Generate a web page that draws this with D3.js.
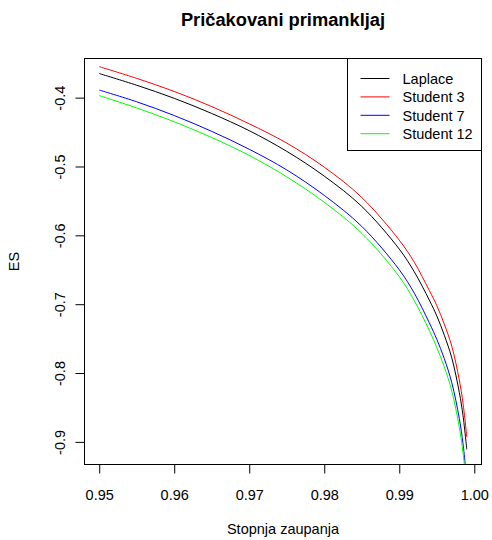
<!DOCTYPE html>
<html>
<head>
<meta charset="utf-8">
<script src="https://cdn.jsdelivr.net/npm/d3@7"></script>
<style>
    body { margin: 0; background: #fff; }
    text { font-family: "Liberation Sans", Arial, sans-serif; fill: #000; }
</style>
</head>
<body>
<div id="chart"></div>
<script>
// Expected shortfall by confidence level
const confidence = [0.95, 0.955, 0.96, 0.965, 0.97, 0.975, 0.98, 0.985, 0.99, 0.992, 0.994, 0.995, 0.996, 0.997, 0.998, 0.9985, 0.999];
const laplace   = [-0.365, -0.382, -0.401, -0.423, -0.448, -0.478, -0.514, -0.558, -0.620, -0.653, -0.694, -0.717, -0.745, -0.778, -0.828, -0.862, -0.911];
const student3  = [-0.355, -0.372, -0.391, -0.413, -0.438, -0.466, -0.501, -0.545, -0.607, -0.639, -0.680, -0.702, -0.729, -0.761, -0.810, -0.844, -0.893];
const student7  = [-0.389, -0.406, -0.426, -0.449, -0.475, -0.505, -0.542, -0.587, -0.650, -0.684, -0.727, -0.751, -0.779, -0.814, -0.866, -0.903, -0.956];
const student12 = [-0.397, -0.415, -0.435, -0.458, -0.484, -0.515, -0.552, -0.597, -0.660, -0.695, -0.738, -0.763, -0.791, -0.826, -0.879, -0.916, -0.969];

const seriesNames = ["Laplace", "Student 3", "Student 7", "Student 12"];
const seriesColors = ["#000000", "#ff0000", "#0000ff", "#00ff00"];
const xTicks = [0.95, 0.96, 0.97, 0.98, 0.99, 1.00];
const yTicks = [-0.9, -0.8, -0.7, -0.6, -0.5, -0.4];

function createChart() {
    const W = 492, H = 540;
    const margin = { top: 58.5, right: 10.5, bottom: 75.5, left: 84.5 };
    const width = W - margin.left - margin.right;
    const height = H - margin.top - margin.bottom;

    const svg = d3.select("#chart").append("svg")
        .attr("width", W)
        .attr("height", H);

    svg.append("rect").attr("width", W).attr("height", H).attr("fill", "#fff");

    const g = svg.append("g")
        .attr("transform", `translate(${margin.left},${margin.top})`);

    // R-style 4% padding; y range taken from the first plotted series
    const pad = ([a, b]) => [a - (b - a) * 0.04, b + (b - a) * 0.04];
    const xScale = d3.scaleLinear().domain(pad(d3.extent(confidence))).range([0, width]);
    const yScale = d3.scaleLinear().domain(pad(d3.extent(laplace))).range([height, 0]);

    const series = [laplace, student3, student7, student12].map((vals, i) => ({
        name: seriesNames[i],
        color: seriesColors[i],
        points: vals.map((v, j) => ({ x: confidence[j], y: v }))
    }));

    g.append("clipPath").attr("id", "plot-clip")
        .append("rect").attr("width", width).attr("height", height);

    const line = d3.line()
        .x(d => xScale(d.x))
        .y(d => yScale(d.y))
        .curve(d3.curveCatmullRom.alpha(0.5));

    g.append("g")
        .attr("clip-path", "url(#plot-clip)")
        .selectAll("path")
        .data(series)
        .enter().append("path")
        .attr("d", d => line(d.points))
        .attr("fill", "none")
        .attr("stroke", d => d.color)
        .attr("stroke-width", 1);

    // Axes
    const xAxis = g.append("g")
        .attr("transform", `translate(0,${height})`)
        .call(d3.axisBottom(xScale).tickValues(xTicks).tickSize(9).tickFormat(d => d.toFixed(2)));
    xAxis.select(".domain").remove();
    xAxis.selectAll("text")
        .attr("y", 35.5)
        .attr("dy", null)
        .style("font-size", "14.5px");

    const yAxis = g.append("g")
        .call(d3.axisLeft(yScale).tickValues(yTicks).tickSize(9).tickFormat(d => "-" + Math.abs(d).toFixed(1)));
    yAxis.select(".domain").remove();
    yAxis.selectAll("text")
        .attr("x", 0)
        .attr("y", -20)
        .attr("dy", null)
        .attr("transform", "rotate(-90)")
        .style("text-anchor", "middle")
        .style("font-size", "14.5px");

    g.selectAll(".tick line").attr("stroke", "#000");

    // Box
    g.append("rect")
        .attr("width", width)
        .attr("height", height)
        .attr("fill", "none")
        .attr("stroke", "#000");

    // Titles
    svg.append("text")
        .attr("x", margin.left + width / 2)
        .attr("y", 26)
        .attr("text-anchor", "middle")
        .style("font-size", "18.3px")
        .style("font-weight", "bold")
        .text("Pričakovani primankljaj");

    svg.append("text")
        .attr("x", margin.left + width / 2)
        .attr("y", 534)
        .attr("text-anchor", "middle")
        .style("font-size", "14.5px")
        .text("Stopnja zaupanja");

    svg.append("text")
        .attr("transform", `translate(19,${margin.top + height / 2}) rotate(-90)`)
        .attr("text-anchor", "middle")
        .style("font-size", "14.5px")
        .text("ES");

    // Legend
    const legW = 134, legH = 92;
    const legend = g.append("g")
        .attr("transform", `translate(${width - legW},0)`);
    legend.append("rect")
        .attr("width", legW)
        .attr("height", legH)
        .attr("fill", "#fff")
        .attr("stroke", "#000");

    const rows = legend.selectAll(".legend-row")
        .data(series)
        .enter().append("g")
        .attr("class", "legend-row")
        .attr("transform", (d, i) => `translate(0,${20 + i * 18.4})`);
    rows.append("line")
        .attr("x1", 13).attr("x2", 42)
        .attr("stroke", d => d.color);
    rows.append("text")
        .attr("x", 55)
        .attr("dy", "0.36em")
        .style("font-size", "14.5px")
        .text(d => d.name);
}

createChart();
</script>
</body>
</html>
